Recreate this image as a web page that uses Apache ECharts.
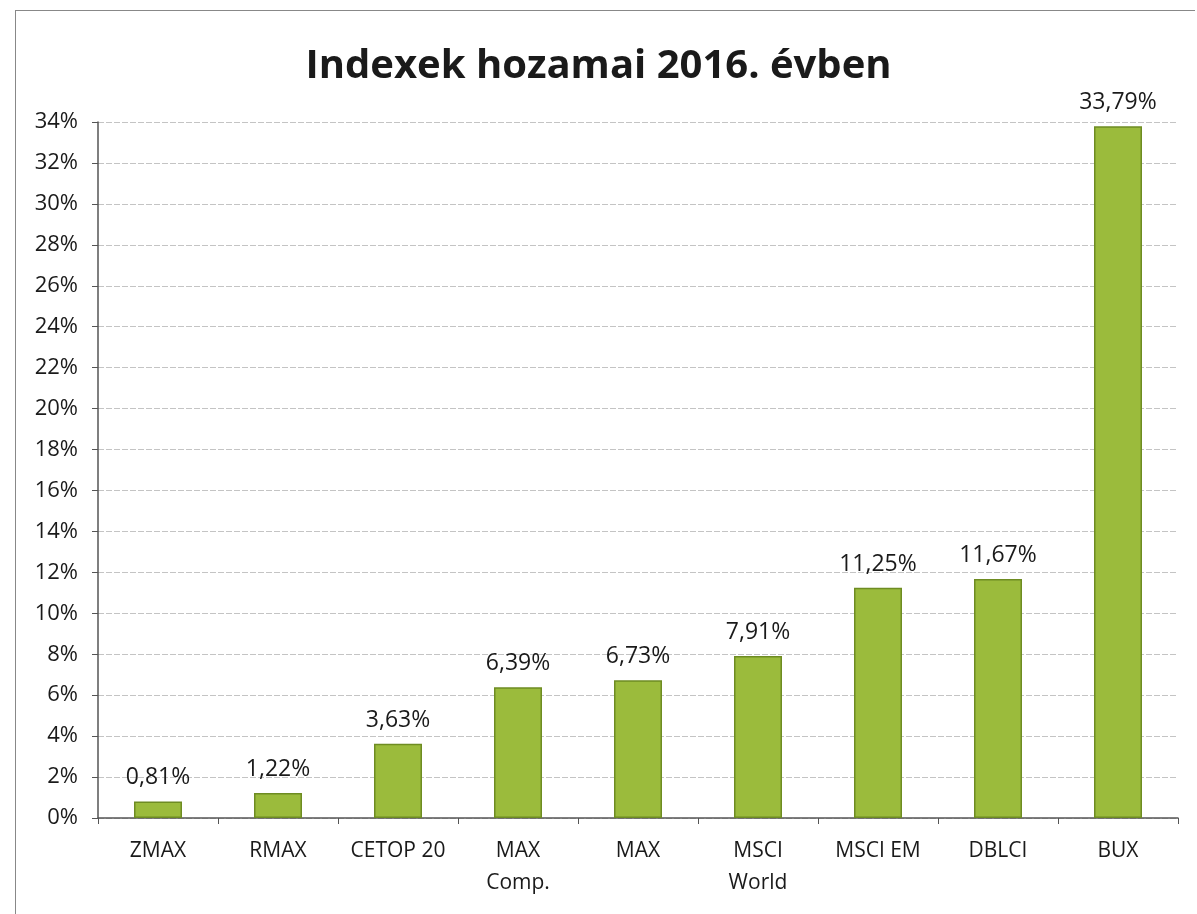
<!DOCTYPE html>
<html>
<head>
<meta charset="utf-8">
<script src="https://cdn.jsdelivr.net/npm/echarts@6/dist/echarts.min.js"></script>
<style>
    html, body { margin: 0; padding: 0; background: #fff; }
    #box { position: absolute; left: 15px; top: 10px; width: 1180px; height: 904px;
           border: 1px solid #888; border-bottom: none; border-right: none; box-sizing: border-box; }
    #chart { width: 1197px; height: 914px; }
</style>
</head>
<body>
<div id="box"></div>
<div id="chart"></div>
<script>
// adatok
var categories = ['ZMAX', 'RMAX', 'CETOP 20', 'MAX\nComp.', 'MAX', 'MSCI\nWorld', 'MSCI EM', 'DBLCI', 'BUX'];
var returns = [0.81, 1.22, 3.63, 6.39, 6.73, 7.91, 11.25, 11.67, 33.79];
var yTicks = [0, 2, 4, 6, 8, 10, 12, 14, 16, 18, 20, 22, 24, 26, 28, 30, 32, 34];

window.onload = function () {
    var charts = echarts.init(document.getElementById('chart'));
    var font = '"Open Sans", "Noto Sans", sans-serif';

    var option = {
        textStyle: { fontFamily: font },
        title: {
            text: 'Indexek hozamai 2016. évben',
            left: 'center',
            top: 42,
            textStyle: { fontSize: 40, fontWeight: 'bold', color: '#1a1a1a', fontFamily: font }
        },
        grid: { left: 98, right: 19, top: 122, bottom: 96 },
        xAxis: {
            type: 'category',
            data: categories,
            axisLine: { lineStyle: { color: '#555', width: 1.5 } },
            axisTick: { show: true, length: 6, lineStyle: { color: '#555' } },
            axisLabel: { interval: 0, hideOverlap: false, color: '#1a1a1a', fontSize: 21,
                margin: 17, lineHeight: 32, fontFamily: font }
        },
        yAxis: {
            type: 'value',
            min: yTicks[0],
            max: yTicks[yTicks.length - 1],
            interval: 2,
            axisLine: { show: true, lineStyle: { color: '#555', width: 1.5 } },
            axisTick: { show: true, length: 6, inside: false, lineStyle: { color: '#555' } },
            axisLabel: { color: '#1a1a1a', fontSize: 22, margin: 20, fontFamily: font,
                formatter: function (v) { return v + '%'; } },
            splitLine: { lineStyle: { color: '#c4c4c4', width: 1, type: [6, 2] } }
        },
        series: [{
            type: 'bar',
            data: returns,
            barWidth: 48,
            itemStyle: { color: '#9bbb3c', borderColor: '#6e8c22', borderWidth: 1.5 },
            label: {
                show: true,
                position: 'top',
                distance: 12,
                color: '#1a1a1a',
                fontSize: 23,
                fontFamily: font,
                formatter: function (p) { return p.value.toFixed(2).replace('.', ',') + '%'; }
            }
        }]
    };

    charts.setOption(option);
};
</script>
</body>
</html>
